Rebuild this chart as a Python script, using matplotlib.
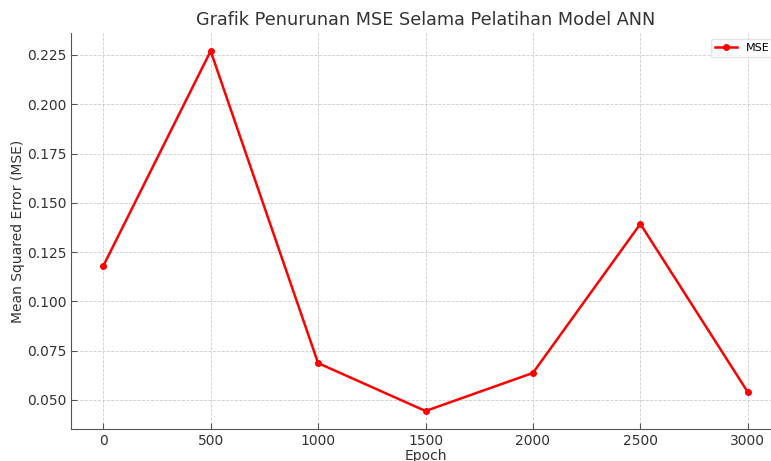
import matplotlib
matplotlib.use("Agg")
import matplotlib.pyplot as plt

epochs = [0, 500, 1000, 1500, 2000, 2500, 3000]
mse = [0.1179, 0.2270, 0.0687, 0.0444, 0.0637, 0.1393, 0.0540]

plt.rcParams['font.family'] = ['DejaVu Sans']
fig = plt.figure(figsize=(7.71, 4.61), dpi=100)
ax = fig.add_axes([71/771, 32/461, 709/771, 396/461])
ax.plot(epochs, mse, color='red', marker='o', markersize=4, linewidth=1.8, label='MSE')
ax.set_title('Grafik Penurunan MSE Selama Pelatihan Model ANN', fontsize=12.7, color='#333333')
ax.set_xlabel('Epoch', fontsize=10, color='#333333', labelpad=1)
ax.set_ylabel('Mean Squared Error (MSE)', fontsize=10, color='#333333', labelpad=1.5)
ax.grid(True, linestyle='--', linewidth=0.6, color='#cccccc')
for s in ['top', 'right']:
    ax.spines[s].set_visible(False)
for s in ['left', 'bottom']:
    ax.spines[s].set_color('#555555')
ax.tick_params(direction='in', length=4, colors='#555555', labelcolor='#333333', labelsize=10)
ax.legend(loc='upper right', fontsize=8, frameon=True, edgecolor='#dddddd')
fig.savefig('out.png', dpi=100)
